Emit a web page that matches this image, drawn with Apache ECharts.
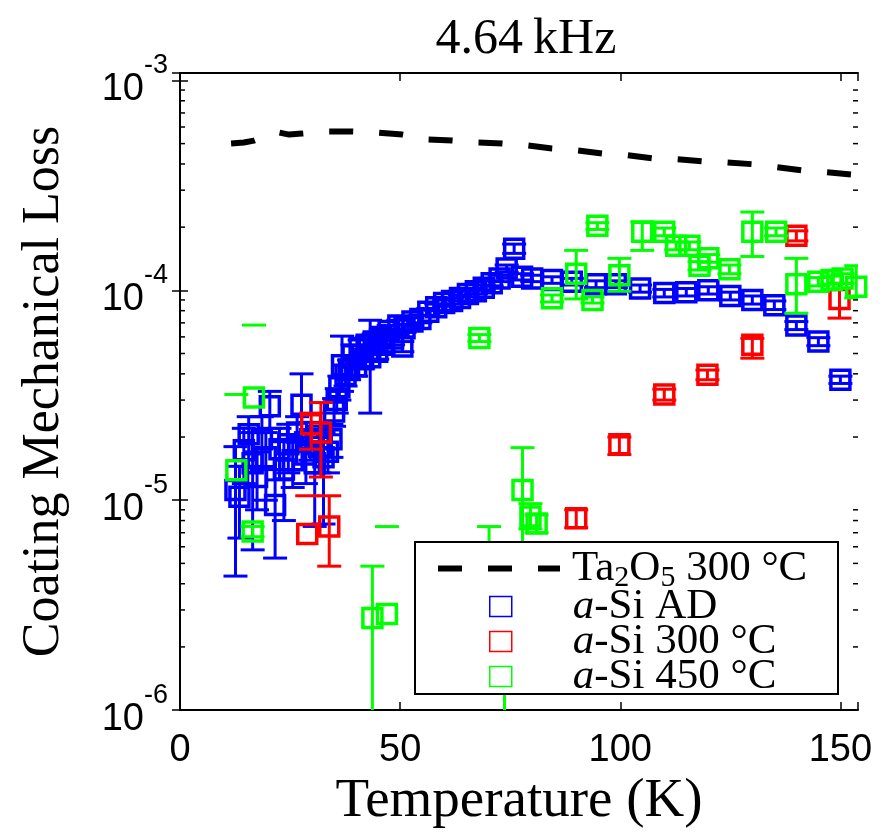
<!DOCTYPE html>
<html>
<head>
<meta charset="utf-8">
<title>4.64 kHz coating loss</title>
<script src="https://cdn.jsdelivr.net/npm/echarts@6/dist/echarts.min.js"></script>
<style>
  html, body { margin: 0; padding: 0; background: #fff; }
  #chart { width: 885px; height: 834px; }
</style>
</head>
<body>
<div id="chart"></div>
<script>
// Axis ranges and tick values
const tempMin = 0, tempMax = 154, tempStep = 50;
const lossMin = 1e-6, lossMax = 1.085e-3;
const lossDecades = [1e-6, 1e-5, 1e-4, 1e-3];

// Ta2O5 (300 °C anneal) reference curve
const ta2o5Temp = [11.6, 14.5, 16.8, 19.8, 22.5, 24.8, 27.7, 33.4, 39.1, 44.8, 50.5, 56.1, 61.8, 67.5,
  73.2, 78.9, 84.5, 90.2, 95.9, 101.6, 107.3, 113, 118.6, 124.3, 130, 135.7, 141.4, 147, 154];
const ta2o5Loss = [5.01e-4, 5.06e-4, 5.17e-4, 5.46e-4, 5.65e-4, 5.52e-4, 5.58e-4, 5.71e-4, 5.71e-4, 5.65e-4,
  5.52e-4, 5.23e-4, 5.17e-4, 5.06e-4, 5.01e-4, 4.90e-4, 4.74e-4, 4.64e-4, 4.49e-4, 4.40e-4, 4.25e-4,
  4.21e-4, 4.12e-4, 4.07e-4, 3.99e-4, 3.86e-4, 3.73e-4, 3.65e-4, 3.54e-4];

// a-Si samples: [temperature K, loss, lower bound, upper bound]
// (a lower bound of 0 cannot be shown on the log axis)
const asiAD = [
  [12.6, 1.12e-5, 4.35e-6, 1.8e-5], [13.5, 1.04e-5, 6.6e-6, 1.45e-5], [14.5, 1.73e-5, 1.2e-5, 2.2e-5],
  [15.6, 2.06e-5, 1.45e-5, 2.5e-5], [16.5, 1.5e-5, 5.8e-6, 2.1e-5], [17.5, 1.29e-5, 9e-6, 1.7e-5],
  [18.6, 1.95e-5, 1.4e-5, 2.5e-5], [19.5, 1.6e-5, 1.0e-5, 2.1e-5], [20.4, 2.8e-5, 2.2e-5, 3.3e-5],
  [21.6, 9.5e-6, 5.3e-6, 1.4e-5], [22.6, 1.75e-5, 1.25e-5, 2.2e-5], [23.6, 1.4e-5, 8e-6, 1.9e-5],
  [24.6, 1.85e-5, 1.35e-5, 2.3e-5], [25.6, 1.55e-5, 1.15e-5, 1.95e-5], [26.6, 2.1e-5, 1.7e-5, 2.5e-5],
  [27.6, 2.85e-5, 2.0e-5, 4.0e-5], [28.6, 1.65e-5, 1.2e-5, 2.1e-5], [29.6, 1.95e-5, 1.55e-5, 2.35e-5],
  [30.6, 1.5e-5, 7.5e-6, 1.9e-5], [31.6, 1.8e-5, 1.35e-5, 2.25e-5], [32.6, 1.6e-5, 7.7e-6, 2.1e-5],
  [33.6, 1.7e-5, 1.35e-5, 2.05e-5], [34.4, 1.95e-5, 1.6e-5, 2.3e-5], [35.0, 2.65e-5, 2.25e-5, 3.05e-5],
  [35.6, 3.0e-5, 2.6e-5, 3.4e-5], [36.2, 3.45e-5, 3.0e-5, 3.9e-5], [36.8, 4.4e-5, 3.3e-5, 6.05e-5],
  [37.6, 3.95e-5, 3.5e-5, 4.4e-5], [38.4, 4.2e-5, 3.75e-5, 4.65e-5], [39.2, 4.9e-5, 4.3e-5, 5.5e-5],
  [40.0, 4.35e-5, 3.9e-5, 4.8e-5], [40.8, 5.3e-5, 4.8e-5, 5.8e-5], [41.6, 4.7e-5, 4.25e-5, 5.15e-5],
  [42.4, 5.5e-5, 5.0e-5, 6.0e-5], [43.2, 4.8e-5, 2.6e-5, 7.2e-5], [44.0, 5.7e-5, 5.2e-5, 6.2e-5],
  [44.8, 5.1e-5, 4.7e-5, 5.5e-5], [45.6, 6.0e-5, 5.5e-5, 6.5e-5], [46.4, 5.5e-5, 5.1e-5, 5.9e-5],
  [47.4, 6.4e-5, 6.0e-5, 6.8e-5], [48.4, 5.9e-5, 5.5e-5, 6.3e-5], [49.6, 6.8e-5, 6.4e-5, 7.2e-5],
  [50.5, 5.4e-5, 5.1e-5, 5.7e-5], [51.0, 6.6e-5, 6.3e-5, 6.9e-5], [52.8, 7.1e-5, 6.8e-5, 7.4e-5],
  [54.6, 7.3e-5, 7.0e-5, 7.6e-5], [56.4, 7.9e-5, 7.6e-5, 8.2e-5], [58.2, 8.3e-5, 8.0e-5, 8.6e-5],
  [60.0, 8.7e-5, 8.4e-5, 9.0e-5], [61.8, 8.9e-5, 8.6e-5, 9.2e-5], [63.6, 9.2e-5, 8.9e-5, 9.5e-5],
  [65.4, 9.6e-5, 9.3e-5, 9.9e-5], [67.2, 9.9e-5, 9.6e-5, 1.02e-4], [69.0, 1.03e-4, 1.0e-4, 1.06e-4],
  [70.8, 1.08e-4, 1.05e-4, 1.11e-4], [72.6, 1.14e-4, 1.1e-4, 1.18e-4], [74.2, 1.27e-4, 1.22e-4, 1.32e-4],
  [75.9, 1.58e-4, 1.5e-4, 1.66e-4], [77.7, 1.16e-4, 1.12e-4, 1.2e-4], [80.0, 1.14e-4, 1.1e-4, 1.18e-4],
  [84.5, 1.12e-4, 1.08e-4, 1.16e-4], [89.0, 1.1e-4, 1.06e-4, 1.14e-4], [94.5, 1.07e-4, 1.03e-4, 1.11e-4],
  [99.0, 1.07e-4, 1.03e-4, 1.11e-4], [104.5, 1.02e-4, 9.8e-5, 1.06e-4], [110.0, 9.7e-5, 9.3e-5, 1.01e-4],
  [115.0, 9.8e-5, 9.4e-5, 1.02e-4], [120.0, 1.0e-4, 9.6e-5, 1.04e-4], [125.0, 9.4e-5, 9.0e-5, 9.8e-5],
  [130.0, 9.0e-5, 8.6e-5, 9.4e-5], [135.0, 8.5e-5, 8.1e-5, 8.9e-5], [140.0, 6.8e-5, 6.5e-5, 7.1e-5],
  [145.0, 5.7e-5, 5.45e-5, 5.95e-5], [150.0, 3.75e-5, 3.6e-5, 3.9e-5], [157.0, 2.6e-5, 2.08e-5, 3.12e-5]
];
const asi300 = [
  [28.9, 6.9e-6, 0, 1.05e-5], [29.8, 2.3e-5, 1.75e-5, 2.6e-5], [32.0, 2.1e-5, 1.29e-5, 2.92e-5],
  [33.9, 7.5e-6, 4.85e-6, 1.05e-5], [90.0, 8.2e-6, 7.4e-6, 9.0e-6], [99.8, 1.85e-5, 1.65e-5, 2.0e-5],
  [110.0, 3.19e-5, 3.0e-5, 3.38e-5], [119.8, 3.96e-5, 3.75e-5, 4.17e-5], [130.0, 5.5e-5, 4.75e-5, 5.9e-5],
  [140.0, 1.82e-4, 1.72e-4, 1.92e-4], [149.8, 9.1e-5, 7.37e-5, 1.08e-4]
];
const asi450 = [
  [12.8, 1.39e-5, 0, 3.19e-5], [16.8, 3.09e-5, 0, 6.83e-5], [16.5, 7.1e-6, 6.7e-6, 7.5e-6],
  [43.7, 2.75e-6, 6.5e-7, 4.85e-6], [47.0, 2.87e-6, 0, 7.49e-6], [68.0, 5.93e-5, 5.7e-5, 6.15e-5],
  [70.2, 3.5e-6, 1.5e-6, 7.49e-6], [73.7, 8.0e-7, 3.6e-7, 1.24e-6], [77.8, 1.12e-5, 4.9e-6, 1.78e-5],
  [79.6, 8.36e-6, 7.3e-6, 9.63e-6], [81.0, 7.74e-6, 7.0e-6, 8.5e-6], [84.5, 9.17e-5, 8.8e-5, 9.5e-5],
  [90.0, 1.2e-4, 9.1e-5, 1.55e-4], [93.7, 9.0e-5, 8.7e-5, 9.3e-5], [94.8, 2.03e-4, 1.95e-4, 2.1e-4],
  [99.8, 1.18e-4, 9.9e-5, 1.42e-4], [105.0, 1.9e-4, 1.55e-4, 2.12e-4], [110.0, 1.9e-4, 1.82e-4, 1.98e-4],
  [112.7, 1.63e-4, 1.56e-4, 1.7e-4], [115.7, 1.63e-4, 1.56e-4, 1.7e-4], [118.0, 1.31e-4, 1.25e-4, 1.37e-4],
  [120.0, 1.42e-4, 1.36e-4, 1.48e-4], [124.8, 1.26e-4, 1.2e-4, 1.32e-4], [130.0, 1.9e-4, 1.45e-4, 2.36e-4],
  [135.4, 1.9e-4, 1.82e-4, 1.98e-4], [140.0, 1.07e-4, 7.78e-5, 1.42e-4], [145.0, 1.1e-4, 1.05e-4, 1.15e-4],
  [148.0, 1.12e-4, 1.07e-4, 1.17e-4], [150.5, 1.14e-4, 1.08e-4, 1.2e-4], [153.6, 1.04e-4, 9.2e-5, 1.31e-4]
];

const seriesNames = ['Ta\u2082O\u2085 300 \u00B0C', 'a-Si AD', 'a-Si 300 \u00B0C', 'a-Si 450 \u00B0C'];
const seriesColors = ['#000000', '#0000ff', '#ff0000', '#00ff00'];

const SERIF = 'Liberation Serif';
const SANS = 'Liberation Sans';
const SQ = 19;      // marker square side (stroke centre)
const CAP = 12;     // half-width of error-bar caps

// minor log ticks 2..9 within each decade
const minorTickValues = [];
lossDecades.slice(0, 3).forEach(d => {
  for (let k = 2; k <= 9; k++) minorTickValues.push(+(k * d).toPrecision(3));
});

// hollow square marker with vertical error bar; lines are clipped to the plot,
// markers are drawn only when their centre lies inside the axes
function errorBarRenderer(color) {
  return function (params, api) {
    const cs = params.coordSys;
    const left = cs.x, right = cs.x + cs.width, top = cs.y, bottom = cs.y + cs.height;
    const t = api.value(0), v = api.value(1), lo = api.value(2), hi = api.value(3);
    const ref = v > 0 ? v : hi;
    const cx = api.coord([t, ref])[0];
    const yOf = val => api.coord([t, val])[1];
    const lineStyle = { stroke: color, lineWidth: 3, fill: 'none' };
    const children = [];
    if (cx >= left && cx <= right && lo > 0 && hi > 0) {
      const y1 = Math.max(top, yOf(hi)), y2 = Math.min(bottom, yOf(lo));
      if (y2 > y1) children.push({ type: 'line', shape: { x1: cx, y1: y1, x2: cx, y2: y2 }, style: lineStyle });
    }
    [lo, hi].forEach(b => {
      if (!(b > 0)) return;
      const yy = yOf(b);
      if (yy < top || yy > bottom) return;
      const x1 = Math.max(left, cx - CAP), x2 = Math.min(right, cx + CAP);
      if (x2 > x1) children.push({ type: 'line', shape: { x1: x1, y1: yy, x2: x2, y2: yy }, style: lineStyle });
    });
    if (v > 0) {
      const p = api.coord([t, v]);
      if (p[0] >= left && p[0] <= right && p[1] >= top && p[1] <= bottom) {
        children.push({
          type: 'rect',
          shape: { x: p[0] - SQ / 2, y: p[1] - SQ / 2, width: SQ, height: SQ },
          style: { stroke: color, lineWidth: 3.5, fill: 'none' }
        });
      }
    }
    return { type: 'group', children: children };
  };
}

function sampleSeries(idx, rows) {
  return {
    name: seriesNames[idx],
    type: 'custom',
    renderItem: errorBarRenderer(seriesColors[idx]),
    data: rows,
    encode: { x: 0, y: 1 },
    itemStyle: { color: seriesColors[idx] },
    silent: true,
    animation: false
  };
}

function decadeLabel(v) {
  const e = Math.log10(v);
  if (Math.abs(e - Math.round(e)) > 0.01) return '';
  return '{b|10}{e|-' + (-Math.round(e)) + '}';
}

const axisLineStyle = { lineStyle: { color: '#000', width: 2 } };
const tickStyle = { show: true, inside: true, length: 8, lineStyle: { color: '#000', width: 1.5 } };

const chart = echarts.init(document.getElementById('chart'), null, { renderer: 'canvas' });

chart.setOption({
  backgroundColor: '#fff',
  animation: false,
  title: {
    text: '4.64\u2009kHz',
    left: 521,
    textAlign: 'center',
    top: 10,
    textStyle: { fontFamily: SERIF, fontSize: 50, fontWeight: 'normal', color: '#000', lineHeight: 50 }
  },
  grid: { left: 180, right: 27, top: 73, bottom: 119, containLabel: false },
  xAxis: [
    {
      type: 'value', min: tempMin, max: tempMax, interval: tempStep, position: 'bottom',
      name: 'Temperature (K)', nameLocation: 'middle', nameGap: 61,
      nameTextStyle: { fontFamily: SERIF, fontSize: 55, color: '#000', lineHeight: 55 },
      axisLine: axisLineStyle, axisTick: tickStyle, splitLine: { show: false },
      axisLabel: {
        margin: 21, fontFamily: SANS, fontSize: 38, color: '#000', lineHeight: 38,
        formatter: v => (v % tempStep === 0 ? String(v) : '')
      }
    },
    {
      type: 'value', min: tempMin, max: tempMax, interval: tempStep, position: 'top',
      axisLine: axisLineStyle, axisTick: tickStyle, axisLabel: { show: false }, splitLine: { show: false }
    }
  ],
  yAxis: [
    {
      type: 'log', logBase: 10, min: lossMin, max: lossMax, position: 'left',
      name: 'Coating Mechanical Loss', nameLocation: 'middle', nameGap: 110,
      nameTextStyle: { fontFamily: SERIF, fontSize: 52, color: '#000' },
      axisLine: axisLineStyle, axisTick: tickStyle, splitLine: { show: false }, minorTick: { show: false },
      axisLabel: {
        margin: 12, color: '#000', formatter: decadeLabel,
        rich: {
          b: { fontFamily: SANS, fontSize: 38, lineHeight: 56, verticalAlign: 'bottom', color: '#000' },
          e: { fontFamily: SANS, fontSize: 27, lineHeight: 56, verticalAlign: 'top', color: '#000' }
        }
      }
    },
    {
      type: 'log', logBase: 10, min: lossMin, max: lossMax, position: 'right',
      axisLine: axisLineStyle, axisTick: tickStyle, axisLabel: { show: false }, splitLine: { show: false }
    }
  ],
  legend: [
    {
      data: [{
        name: seriesNames[0],
        icon: 'path://M0 0H24V6H0Z M50 0H74V6H50Z M100 0H122V6H100Z',
        itemStyle: { color: '#000', borderWidth: 0 }
      }],
      left: 438, top: 547, orient: 'vertical', selectedMode: false,
      itemWidth: 122, itemHeight: 6, itemGap: 0, padding: 0,
      formatter: () => '{sp|}{r|Ta}{s|2}{r|O}{s|5}{r| 300 \u00B0C}',
      textStyle: {
        fontFamily: SERIF, fontSize: 43, color: '#000', lineHeight: 36,
        rich: {
          sp: { width: 7 },
          r: { fontFamily: SERIF, fontSize: 43, lineHeight: 36, color: '#000' },
          s: { fontFamily: SERIF, fontSize: 30, lineHeight: 10, verticalAlign: 'top', padding: [13, 0, 0, 0], color: '#000' }
        }
      }
    },
    {
      data: [1, 2, 3].map(i => ({
        name: seriesNames[i], icon: 'rect',
        itemStyle: { color: 'rgba(0,0,0,0)', borderColor: seriesColors[i], borderWidth: 1.5 }
      })),
      left: 489, top: 585, orient: 'vertical', selectedMode: false,
      itemWidth: 22, itemHeight: 20, itemGap: -8, padding: 0,
      formatter: name => '{sp|}{i|a}{r|' + name.slice(1) + '}',
      textStyle: {
        fontFamily: SERIF, fontSize: 43, color: '#000', lineHeight: 35,
        rich: {
          sp: { width: 56 },
          i: { fontFamily: SERIF, fontStyle: 'italic', fontSize: 43, lineHeight: 35, color: '#000' },
          r: { fontFamily: SERIF, fontSize: 43, lineHeight: 35, color: '#000' }
        }
      }
    }
  ],
  graphic: [
    {
      type: 'rect', z: 3, silent: true,
      shape: { x: 415, y: 542, width: 423, height: 152 },
      style: { fill: '#fff', stroke: '#000', lineWidth: 2 }
    }
  ],
  series: [
    {
      name: seriesNames[0],
      type: 'line',
      data: ta2o5Temp.map((t, i) => [t, ta2o5Loss[i]]),
      symbol: 'none', showSymbol: false, smooth: false,
      lineStyle: { color: '#000', width: 6, type: [24, 26], cap: 'butt' },
      itemStyle: { color: '#000' },
      silent: true, animation: false
    },
    sampleSeries(1, asiAD),
    sampleSeries(2, asi300),
    sampleSeries(3, asi450),
    {
      name: 'minorTicks',
      type: 'custom',
      silent: true, animation: false, z: 5,
      data: minorTickValues.map(v => [tempMin, v]),
      encode: { x: 0, y: 1 },
      renderItem: function (params, api) {
        const cs = params.coordSys;
        const yy = api.coord([tempMin, api.value(1)])[1];
        const st = { stroke: '#000', lineWidth: 1.5 };
        return {
          type: 'group', children: [
            { type: 'line', shape: { x1: cs.x, y1: yy, x2: cs.x + 5, y2: yy }, style: st },
            { type: 'line', shape: { x1: cs.x + cs.width - 5, y1: yy, x2: cs.x + cs.width, y2: yy }, style: st }
          ]
        };
      }
    }
  ]
});
</script>
</body>
</html>
